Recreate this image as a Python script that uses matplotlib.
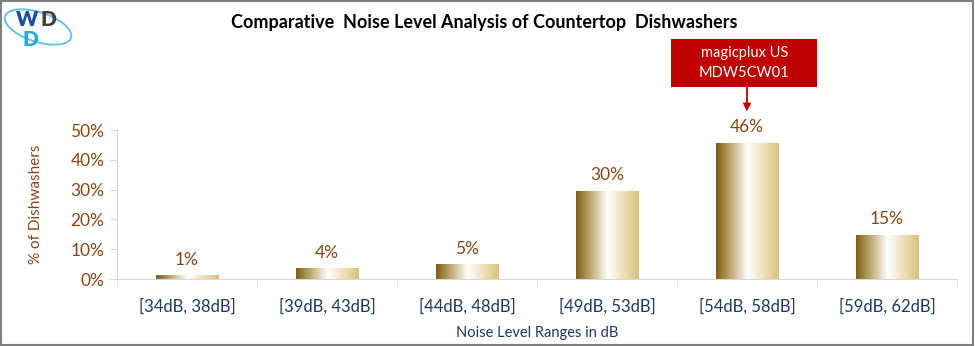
import matplotlib
matplotlib.use("Agg")
import matplotlib.pyplot as plt
from matplotlib.colors import LinearSegmentedColormap
from matplotlib.patches import Rectangle, Ellipse
import numpy as np

# data
categories = ["[34dB, 38dB]", "[39dB, 43dB]", "[44dB, 48dB]",
              "[49dB, 53dB]", "[54dB, 58dB]", "[59dB, 62dB]"]
shares = [0.012, 0.037, 0.049, 0.296, 0.457, 0.148]
yticks = [0, 0.1, 0.2, 0.3, 0.4, 0.5]
highlight_index = 4
highlight_text = "magicplux US\nMDW5CW01"

plt.rcParams['font.family'] = ['Lato', 'DejaVu Sans']

brown = "#8B4513"
navy = "#1F3864"
gold = LinearSegmentedColormap.from_list(
    "gold", [(0, "#7c5f12"), (0.25, "#c2ae7a"), (0.5, "#ffffff"),
             (0.75, "#eee0bb"), (1, "#d9c27c")])

fig = plt.figure(figsize=(9.75, 3.46), dpi=100)
ax = fig.add_axes([117 / 975, 67 / 346, 840 / 975, 149 / 346])

x = np.arange(len(categories))
bars = ax.bar(x, shares, width=0.45, color="none", zorder=2)

# gradient fill for each bar
grad = np.linspace(0, 1, 256).reshape(1, -1)
for b in bars:
    im = ax.imshow(grad, cmap=gold, aspect="auto", zorder=2,
                   extent=[b.get_x(), b.get_x() + b.get_width(), 0, b.get_height()])
    im.set_clip_path(b)

# value labels
for xi, v in zip(x, shares):
    ax.text(xi, v + 0.025, "%d%%" % round(v * 100), ha="center", va="bottom",
            fontsize=12.5, color=brown)

ax.set_xlim(-0.5, len(categories) - 0.5)
ax.set_ylim(0, 0.5)
ax.set_yticks(yticks)
ax.set_yticklabels(["%d%%" % round(t * 100) for t in yticks], fontsize=12.5, color=brown)
ax.set_xticks(x)
ax.set_xticklabels(categories, fontsize=12, color=navy)
ax.set_xticks(np.arange(len(categories) + 1) - 0.5, minor=True)
ax.tick_params(axis="x", which="major", length=0, pad=14)
ax.tick_params(axis="x", which="minor", length=5, color="#d9d9d9")
ax.tick_params(axis="y", length=5, color="#d9d9d9", pad=4)
for s in ["top", "right"]:
    ax.spines[s].set_visible(False)
for s in ["left", "bottom"]:
    ax.spines[s].set_color("#d9d9d9")

ax.set_ylabel("% of Dishwashers", fontsize=11, color=brown, labelpad=20)
ax.set_xlabel("Noise Level Ranges in dB", fontsize=10.5, color=navy, labelpad=8)

# callout above the highlighted bar
hv = shares[highlight_index]
ax.add_patch(Rectangle((highlight_index - 0.545, hv + 0.187), 1.045, 0.161,
                       fc="#c00000", ec="none", clip_on=False, zorder=3))
ax.annotate("", xy=(highlight_index, hv + 0.105), xytext=(highlight_index, hv + 0.187),
            arrowprops=dict(arrowstyle="-|>", color="#c00000", lw=1.3, mutation_scale=11,
                            shrinkA=0, shrinkB=0),
            annotation_clip=False)
ax.text(highlight_index - 0.02, hv + 0.268, highlight_text, ha="center", va="center",
        fontsize=10.5, color="white", linespacing=1.55, clip_on=False, zorder=4)

fig.text(0.497, 0.935, "Comparative  Noise Level Analysis of Countertop  Dishwashers",
         ha="center", va="center", fontsize=13, fontweight="bold", color="black")

# logo
fig.patches.append(Ellipse((38 / 975, 1 - 27 / 346), 54 / 975, 38 / 346, angle=25,
                           transform=fig.transFigure, fill=False, ec="#5bc0eb", lw=1.3))
fig.text(27 / 975, 1 - 19 / 346, "W", fontsize=15, fontweight="heavy", color="#1b4fa3",
         ha="center", va="center")
fig.text(48 / 975, 1 - 20 / 346, "D", fontsize=15, fontweight="heavy", color="#3f3f3f",
         ha="center", va="center")
fig.text(30 / 975, 1 - 39 / 346, "D", fontsize=15, fontweight="heavy", color="#29a8e0",
         ha="center", va="center")

# outer border
fig.patches.append(Rectangle((0.001, 0.003), 0.997, 0.994, transform=fig.transFigure,
                             fill=False, ec="#7f7f7f", lw=1.5))

fig.savefig("out.png", dpi=100)
